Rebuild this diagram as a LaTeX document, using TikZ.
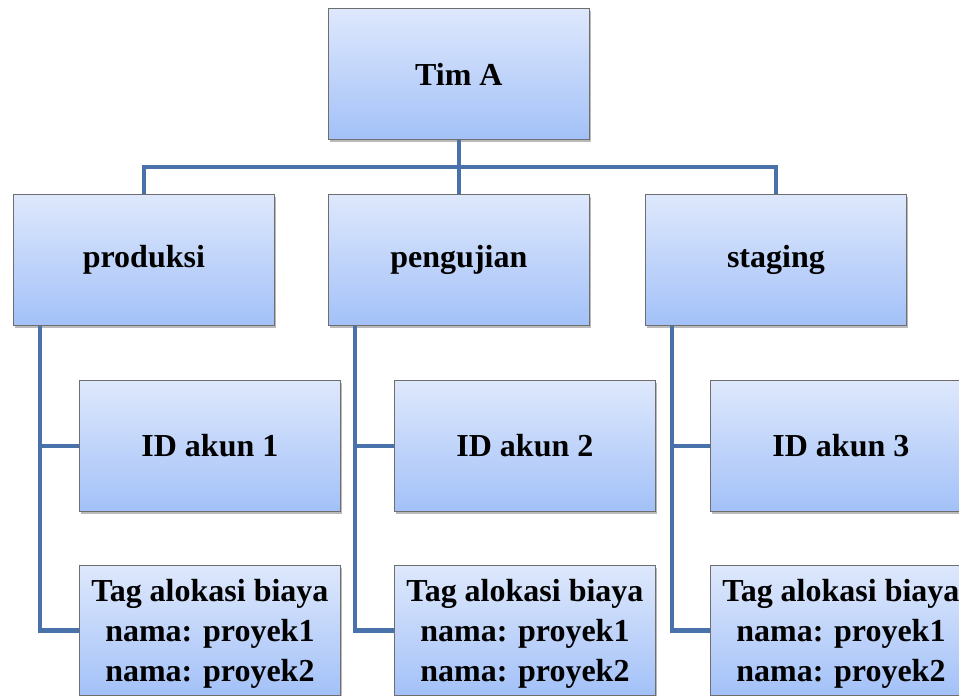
\documentclass[tikz,border=0pt]{standalone}
\usepackage{fontspec}
\setmainfont{Liberation Serif}
\usetikzlibrary{shadows}
\definecolor{linkblue}{HTML}{4A72AA}
\definecolor{boxtop}{HTML}{DEE8FC}
\definecolor{boxbot}{HTML}{A3C1F8}
\definecolor{boxedge}{HTML}{6E6E6E}
\tikzset{
  orgbox/.style={draw=boxedge, line width=0.8pt, top color=boxtop, bottom color=boxbot,
    minimum width=261pt, minimum height=131pt, inner sep=0pt, anchor=north west,
    align=center, font=\fontsize{32}{40}\selectfont\bfseries,
    drop shadow={shadow xshift=2pt, shadow yshift=-3pt, opacity=0.45, fill=black!60}},
  tagbox/.style={orgbox, minimum height=130pt, text depth=0pt},
  link/.style={draw=linkblue, line width=4.5pt}
}
\begin{document}
\begin{tikzpicture}[x=1pt,y=-1pt]
\useasboundingbox (0,0) rectangle (959,696);
% nodes
\node[orgbox] (tim) at (328,8) {Tim A};
\node[orgbox] (prod) at (13,194) {produksi};
\node[orgbox] (peng) at (328,194) {pengujian};
\node[orgbox] (stag) at (645,194) {staging};
\node[orgbox] (id1) at (79,380) {ID akun 1};
\node[orgbox] (id2) at (394,380) {ID akun 2};
\node[orgbox] (id3) at (710,380) {ID akun 3};
\node[tagbox] (tag1) at (79,565) {Tag alokasi biaya\\nama: proyek1\\nama: proyek2};
\node[tagbox] (tag2) at (394,565) {Tag alokasi biaya\\nama: proyek1\\nama: proyek2};
\node[tagbox] (tag3) at (710,565) {Tag alokasi biaya\\nama: proyek1\\nama: proyek2};
% helper coordinates
\coordinate (bus) at (0,167);
\coordinate (v1) at ([xshift=27pt]prod.south west);
\coordinate (v2) at ([xshift=27pt]peng.south west);
\coordinate (v3) at ([xshift=27pt]stag.south west);
% connectors
\draw[link] (tim.south) -- (peng.north);
\draw[link] (prod.north) -- (prod.north |- bus) -- (stag.north |- bus) -- (stag.north);
\draw[link] (v1) |- (tag1.west);
\draw[link] (v1 |- id1.west) -- (id1.west);
\draw[link] (v2) |- (tag2.west);
\draw[link] (v2 |- id2.west) -- (id2.west);
\draw[link] (v3) |- (tag3.west);
\draw[link] (v3 |- id3.west) -- (id3.west);
\end{tikzpicture}
\end{document}
